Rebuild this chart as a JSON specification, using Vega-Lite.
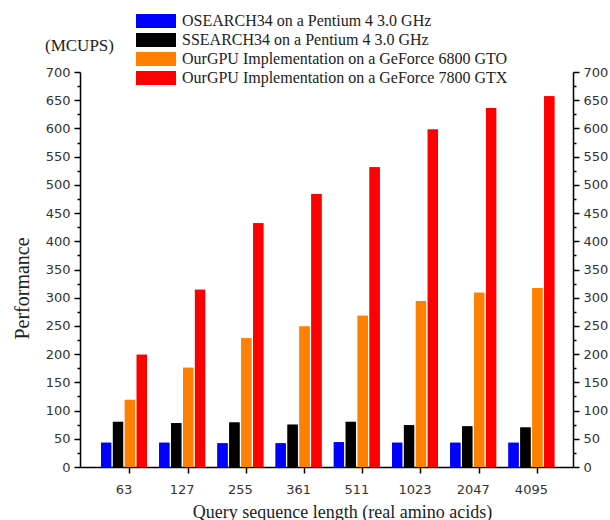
{
  "$schema": "https://vega.github.io/schema/vega-lite/v6.json",
  "autosize": "none",
  "padding": {"left": 80, "top": 72, "right": 37, "bottom": 53},
  "width": 493,
  "height": 395,
  "background": "white",
  "config": {"view": {"stroke": null}, "axis": {"grid": false}},
  "title": {"text": "(MCUPS)", "anchor": "start", "frame": "group", "font": "Liberation Serif", "fontSize": 17, "fontWeight": "normal", "color": "#222", "dx": -35, "dy": 62, "offset": 12, "baseline": "middle"},
  "data": {"values": [
    {"len": "63", "series": "OSEARCH34 on a Pentium 4 3.0 GHz", "v": 43},
    {"len": "63", "series": "SSEARCH34 on a Pentium 4 3.0 GHz", "v": 80},
    {"len": "63", "series": "OurGPU Implementation on a GeForce 6800 GTO", "v": 119},
    {"len": "63", "series": "OurGPU Implementation on a GeForce 7800 GTX", "v": 199},
    {"len": "127", "series": "OSEARCH34 on a Pentium 4 3.0 GHz", "v": 43},
    {"len": "127", "series": "SSEARCH34 on a Pentium 4 3.0 GHz", "v": 78},
    {"len": "127", "series": "OurGPU Implementation on a GeForce 6800 GTO", "v": 176},
    {"len": "127", "series": "OurGPU Implementation on a GeForce 7800 GTX", "v": 314},
    {"len": "255", "series": "OSEARCH34 on a Pentium 4 3.0 GHz", "v": 42},
    {"len": "255", "series": "SSEARCH34 on a Pentium 4 3.0 GHz", "v": 79},
    {"len": "255", "series": "OurGPU Implementation on a GeForce 6800 GTO", "v": 228},
    {"len": "255", "series": "OurGPU Implementation on a GeForce 7800 GTX", "v": 432},
    {"len": "361", "series": "OSEARCH34 on a Pentium 4 3.0 GHz", "v": 42},
    {"len": "361", "series": "SSEARCH34 on a Pentium 4 3.0 GHz", "v": 75},
    {"len": "361", "series": "OurGPU Implementation on a GeForce 6800 GTO", "v": 249},
    {"len": "361", "series": "OurGPU Implementation on a GeForce 7800 GTX", "v": 484},
    {"len": "511", "series": "OSEARCH34 on a Pentium 4 3.0 GHz", "v": 44},
    {"len": "511", "series": "SSEARCH34 on a Pentium 4 3.0 GHz", "v": 80},
    {"len": "511", "series": "OurGPU Implementation on a GeForce 6800 GTO", "v": 268},
    {"len": "511", "series": "OurGPU Implementation on a GeForce 7800 GTX", "v": 531},
    {"len": "1023", "series": "OSEARCH34 on a Pentium 4 3.0 GHz", "v": 43},
    {"len": "1023", "series": "SSEARCH34 on a Pentium 4 3.0 GHz", "v": 74},
    {"len": "1023", "series": "OurGPU Implementation on a GeForce 6800 GTO", "v": 294},
    {"len": "1023", "series": "OurGPU Implementation on a GeForce 7800 GTX", "v": 598},
    {"len": "2047", "series": "OSEARCH34 on a Pentium 4 3.0 GHz", "v": 43},
    {"len": "2047", "series": "SSEARCH34 on a Pentium 4 3.0 GHz", "v": 72},
    {"len": "2047", "series": "OurGPU Implementation on a GeForce 6800 GTO", "v": 309},
    {"len": "2047", "series": "OurGPU Implementation on a GeForce 7800 GTX", "v": 636},
    {"len": "4095", "series": "OSEARCH34 on a Pentium 4 3.0 GHz", "v": 43},
    {"len": "4095", "series": "SSEARCH34 on a Pentium 4 3.0 GHz", "v": 70},
    {"len": "4095", "series": "OurGPU Implementation on a GeForce 6800 GTO", "v": 317},
    {"len": "4095", "series": "OurGPU Implementation on a GeForce 7800 GTX", "v": 657}
  ]},
  "encoding": {
    "x": {
      "field": "len", "type": "nominal", "sort": null,
      "scale": {"paddingInner": 0.21, "paddingOuter": 0.34, "align": 0.53},
      "axis": {
        "title": "Query sequence length (real amino acids)",
        "bandPosition": 0.63, "labelAngle": 0,
        "labelFont": "DejaVu Sans", "labelFontSize": 13, "labelColor": "#333", "labelPadding": 10,
        "tickSize": 6, "tickWidth": 1.5, "tickColor": "black",
        "domainColor": "black", "domainWidth": 1.5,
        "titleFont": "Liberation Serif", "titleFontSize": 18, "titleFontWeight": "normal", "titleColor": "#222",
        "titleX": 262, "titleY": 50, "titleBaseline": "alphabetic"
      }
    },
    "xOffset": {
      "field": "series", "type": "nominal",
      "sort": ["OSEARCH34 on a Pentium 4 3.0 GHz", "SSEARCH34 on a Pentium 4 3.0 GHz", "OurGPU Implementation on a GeForce 6800 GTO", "OurGPU Implementation on a GeForce 7800 GTX"],
      "scale": {"paddingInner": 0.14, "paddingOuter": 0}
    },
    "color": {
      "field": "series", "type": "nominal",
      "scale": {
        "domain": ["OSEARCH34 on a Pentium 4 3.0 GHz", "SSEARCH34 on a Pentium 4 3.0 GHz", "OurGPU Implementation on a GeForce 6800 GTO", "OurGPU Implementation on a GeForce 7800 GTX"],
        "range": ["#0000ff", "#000000", "#ff8000", "#ff0000"]
      },
      "legend": {
        "title": null, "orient": "none", "legendX": 68, "legendY": -59, "padding": 0,
        "symbolType": "M-2.857,-1H2.857V1H-2.857Z", "symbolSize": 196, "symbolStrokeWidth": 0, "symbolOpacity": 1,
        "labelFont": "Liberation Serif", "labelFontSize": 16, "labelColor": "#222", "labelOffset": 18,
        "rowPadding": 3, "labelLimit": 400
      }
    }
  },
  "layer": [
    {
      "mark": "bar",
      "encoding": {
        "y": {
          "field": "v", "type": "quantitative", "scale": {"domain": [0, 700], "nice": false},
          "axis": {
            "orient": "left",
            "values": [0,25,50,75,100,125,150,175,200,225,250,275,300,325,350,375,400,425,450,475,500,525,550,575,600,625,650,675,700],
            "labelExpr": "datum.value % 50 === 0 ? datum.label : ''",
            "tickSize": {"condition": {"test": "datum.value % 50 === 0", "value": 6}, "value": 3},
            "labelPadding": 4, "labelOverlap": false, "labelFlush": false,
            "labelFont": "DejaVu Sans", "labelFontSize": 13, "labelColor": "#333",
            "domainColor": "black", "domainWidth": 1.5, "tickColor": "black", "tickWidth": 1.5,
            "title": "Performance", "titleFont": "Liberation Serif", "titleFontSize": 20, "titleFontWeight": "normal", "titleColor": "#222",
            "titleAngle": 270, "titleX": -58, "titleY": 216, "titleAlign": "center", "titleBaseline": "middle"
          }
        }
      }
    },
    {
      "mark": "bar",
      "encoding": {
        "y": {
          "field": "v", "type": "quantitative", "scale": {"domain": [0, 700], "nice": false},
          "axis": {
            "orient": "right",
            "values": [0,25,50,75,100,125,150,175,200,225,250,275,300,325,350,375,400,425,450,475,500,525,550,575,600,625,650,675,700],
            "labelExpr": "datum.value % 50 === 0 ? datum.label : ''",
            "tickSize": {"condition": {"test": "datum.value % 50 === 0", "value": 6}, "value": 3},
            "labelPadding": 4, "labelOverlap": false, "labelFlush": false,
            "labelFont": "DejaVu Sans", "labelFontSize": 13, "labelColor": "#333",
            "domainColor": "black", "domainWidth": 1.5, "tickColor": "black", "tickWidth": 1.5,
            "title": null
          }
        }
      }
    }
  ],
  "resolve": {"scale": {"y": "independent"}}
}
